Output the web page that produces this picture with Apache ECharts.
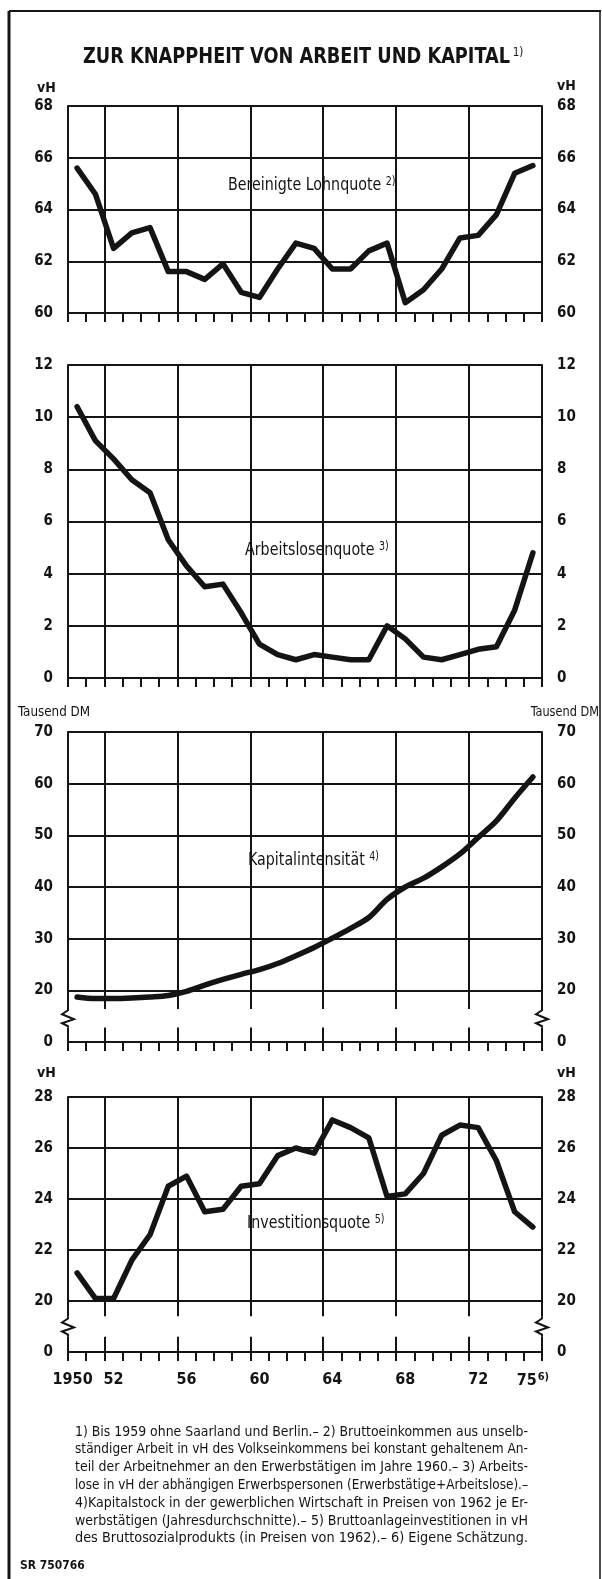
<!DOCTYPE html>
<html>
<head>
<meta charset="utf-8">
<script src="https://cdn.jsdelivr.net/npm/echarts@6/dist/echarts.min.js"></script>
<style>
	html, body { margin: 0; padding: 0; background: #fff; }
	#chart { width: 602px; height: 1579px; }
</style>
</head>
<body>
<div id="chart"></div>
<script>
	// Jahre 1950 - 1975
	var years = ['1950', '1951', '1952', '1953', '1954', '1955', '1956', '1957', '1958', '1959', '1960', '1961', '1962',
		'1963', '1964', '1965', '1966', '1967', '1968', '1969', '1970', '1971', '1972', '1973', '1974', '1975'];
	var labelYears = ['1950', '1952', '1956', '1960', '1964', '1968', '1972', '1975'];

	var lohnquote = [65.6, 64.6, 62.5, 63.1, 63.3, 61.6, 61.6, 61.3, 61.9, 60.8, 60.6, 61.7, 62.7,
		62.5, 61.7, 61.7, 62.4, 62.7, 60.4, 60.9, 61.7, 62.9, 63.0, 63.8, 65.4, 65.7];
	var arbeitslosenquote = [10.4, 9.1, 8.4, 7.6, 7.1, 5.3, 4.3, 3.5, 3.6, 2.5, 1.3, 0.9, 0.7,
		0.9, 0.8, 0.7, 0.7, 2.0, 1.5, 0.8, 0.7, 0.9, 1.1, 1.2, 2.6, 4.8];
	var kapitalintensitaet = [18.7, 18.4, 18.4, 18.5, 18.7, 19.0, 19.8, 21.0, 22.1, 23.1, 24.0, 25.2, 26.7,
		28.3, 30.1, 32.0, 34.1, 37.6, 40.0, 41.7, 43.9, 46.4, 49.6, 52.8, 57.2, 61.3];
	var investitionsquote = [21.1, 20.1, 20.1, 21.6, 22.6, 24.5, 24.9, 23.5, 23.6, 24.5, 24.6, 25.7, 26.0,
		25.8, 27.1, 26.8, 26.4, 24.1, 24.2, 25.0, 26.5, 26.9, 26.8, 25.5, 23.5, 22.9];

	// [min, max, interval] je Teilbild; min in Bild 3 und 4 wird als "0" beschriftet (Achsenbruch)
	var ranges = [[60, 68, 2], [0, 12, 2], [10, 70, 10], [18, 28, 2]];
	var panelNames = ['Bereinigte Lohnquote', 'Arbeitslosenquote', 'Kapitalintensität', 'Investitionsquote'];
	var panelNotes = ['2)', '3)', '4)', '5)'];

	var footnotes = [
		'1) Bis 1959 ohne Saarland und Berlin.– 2) Bruttoeinkommen aus unselb-',
		'ständiger Arbeit in vH des Volkseinkommens bei konstant gehaltenem An-',
		'teil der Arbeitnehmer an den Erwerbstätigen im Jahre 1960.– 3) Arbeits-',
		'lose in vH der abhängigen Erwerbspersonen (Erwerbstätige+Arbeitslose).–',
		'4)Kapitalstock in der gewerblichen Wirtschaft in Preisen von 1962 je Er-',
		'werbstätigen (Jahresdurchschnitte).– 5) Bruttoanlageinvestitionen in vH',
		'des Bruttosozialprodukts (in Preisen von 1962).– 6) Eigene Schätzung.'
	];

	var INK = '#141414';
	var FONT = '"Liberation Sans Narrow", "DejaVu Sans Condensed", "Noto Sans", sans-serif';
	var LEFT = 68, RIGHT = 60;
	var panels = [
		{ top: 106, height: 207 },
		{ top: 365, height: 313 },
		{ top: 732, height: 310 },
		{ top: 1097, height: 255 }
	];
	var seriesData = [lohnquote, arbeitslosenquote, kapitalintensitaet, investitionsquote];

	var chart = echarts.init(document.getElementById('chart'), null, { renderer: 'canvas' });

	var grids = [], xAxes = [], yAxes = [], series = [];
	panels.forEach(function(p, i) {
		grids.push({ left: LEFT, right: RIGHT, top: p.top, height: p.height });
		var isLast = i === panels.length - 1;
		xAxes.push({
			type: 'category',
			gridIndex: i,
			data: years,
			boundaryGap: true,
			axisLine: { lineStyle: { color: INK, width: 2 } },
			axisTick: { show: true, interval: 0, length: 9, lineStyle: { color: INK, width: 2 } },
			axisLabel: isLast ? {
				show: true,
				interval: function(idx, val) { return labelYears.indexOf(val) >= 0; },
				margin: 20,
				color: INK,
				fontFamily: FONT,
				fontWeight: 'bold',
				fontSize: 16,
				formatter: function(val) {
					if (val === '1950') return '{y|1950}';
					if (val === '1975') return '75{s|6)}';
					return val.slice(2);
				},
				rich: {
					y: { fontSize: 16, fontWeight: 'bold', fontFamily: FONT, color: INK, padding: [0, 9, 0, 0] },
					s: { fontSize: 11, fontFamily: FONT, color: INK, verticalAlign: 'top', padding: [0, 0, 6, 1] }
				}
			} : { show: false },
			splitLine: {
				show: true,
				interval: function(idx) { return idx % 4 === 2; },
				lineStyle: { color: INK, width: 2 }
			}
		});
		var r = ranges[i];
		var fmt = function(v) { return (i >= 2 && v === r[0]) ? '0' : String(v); };
		[0, 1].forEach(function(side) {
			yAxes.push({
				type: 'value',
				gridIndex: i,
				position: side === 0 ? 'left' : 'right',
				min: r[0], max: r[1], interval: r[2],
				axisLine: { show: true, lineStyle: { color: INK, width: 2 } },
				axisTick: { show: false },
				axisLabel: {
					color: INK, fontFamily: FONT, fontWeight: 'bold', fontSize: 15,
					margin: side === 0 ? 15 : 15,
					formatter: fmt
				},
				splitLine: { show: side === 0, lineStyle: { color: INK, width: 2 } }
			});
		});
		series.push({
			type: 'line',
			xAxisIndex: i,
			yAxisIndex: i * 2,
			data: seriesData[i],
			symbol: 'none',
			smooth: i === 2 ? 0.3 : false,
			lineStyle: { color: INK, width: 5.5, join: 'round', cap: 'round' },
			z: 5
		});
	});

	chart.setOption({
		backgroundColor: '#fff',
		animation: false,
		grid: grids,
		xAxis: xAxes,
		yAxis: yAxes,
		series: series
	});

	// Texte und Rahmen
	var measure = document.createElement('canvas').getContext('2d');
	function textWidth(txt, font) {
		measure.font = font;
		return measure.measureText(txt).width;
	}

	var g = [];
	function line(x1, y1, x2, y2, w) {
		g.push({ type: 'line', z: 100, shape: { x1: x1, y1: y1, x2: x2, y2: y2 }, style: { stroke: INK, lineWidth: w } });
	}
	function text(x, y, str, opt, sx) {
		g.push({
			type: 'text', z: 100, x: x, y: y, scaleX: sx || 1,
			style: Object.assign({ text: str, fill: INK, font: '15px ' + FONT, textAlign: 'left', textVerticalAlign: 'middle' }, opt || {})
		});
	}

	// Rahmen
	line(9, 11, 9, 1579, 3);
	line(9, 11, 601, 11, 2);
	line(600, 11, 600, 1579, 1.5);

	// Titel
	var titleFont = 'bold 22px ' + FONT;
	var titleText = 'ZUR KNAPPHEIT VON ARBEIT UND KAPITAL';
	g.push({
		type: 'text', z: 100, x: 83, y: 57, scaleX: 427 / textWidth(titleText, titleFont),
		style: {
			text: '{t|' + titleText + '}{s|1)}',
			align: 'left', verticalAlign: 'middle',
			rich: {
				t: { font: titleFont, fill: INK },
				s: { font: '13px ' + FONT, fill: INK, verticalAlign: 'top', padding: [0, 0, 0, 3] }
			}
		}
	});

	// Einheiten
	text(37, 88, 'vH', { font: 'bold 14px ' + FONT });
	text(557, 86, 'vH', { font: 'bold 14px ' + FONT });
	text(18, 712, 'Tausend DM', { font: '14px ' + FONT }, 0.95);
	text(599, 712, 'Tausend DM', { font: '14px ' + FONT, textAlign: 'right' }, 0.9);
	text(37, 1073, 'vH', { font: 'bold 14px ' + FONT });
	text(557, 1073, 'vH', { font: 'bold 14px ' + FONT });

	// Beschriftung der Kurven
	var nameX = [228, 245, 248, 247];
	var nameY = [185, 550, 860, 1223];
	panelNames.forEach(function(name, i) {
		g.push({
			type: 'text', z: 100, x: nameX[i], y: nameY[i], scaleX: 0.88,
			style: {
				text: '{n|' + name + ' }{s|' + panelNotes[i] + '}',
				align: 'left', verticalAlign: 'middle',
				rich: {
					n: { font: '18px ' + FONT, fill: INK },
					s: { font: '12px ' + FONT, fill: INK, verticalAlign: 'top' }
				}
			}
		});
	});

	// Fussnoten, auf volle Breite gestreckt
	var fnFont = '14px ' + FONT;
	footnotes.forEach(function(str, k) {
		var w = textWidth(str, fnFont);
		g.push({
			type: 'text', z: 100, x: 75, y: 1432 + k * 17.8, scaleX: 453 / w,
			style: { text: str, fill: INK, font: fnFont, textAlign: 'left', textVerticalAlign: 'middle' }
		});
	});
	text(20, 1566, 'SR 750766', { font: 'bold 13px ' + FONT }, 0.92);

	// Achsenbruch in Bild 3 und 4
	function addBreak(panel, vBottom, vTop) {
		var yTop = chart.convertToPixel({ yAxisIndex: panel * 2 }, vTop);
		var yBot = chart.convertToPixel({ yAxisIndex: panel * 2 }, vBottom);
		var xl = LEFT, xr = 602 - RIGHT;
		g.push({ type: 'rect', z: 99, shape: { x: xl - 3, y: yTop, width: xr - xl + 6, height: yBot - yTop }, style: { fill: '#fff' } });
		var mid = (yTop + yBot) / 2;
		[xl, xr].forEach(function(x) {
			g.push({
				type: 'polyline', z: 100,
				shape: { points: [[x, yTop], [x, mid - 8], [x - 6, mid - 4], [x + 6, mid + 1], [x - 6, mid + 5], [x, mid + 8], [x, yBot]] },
				style: { stroke: INK, lineWidth: 2, fill: null }
			});
		});
	}
	addBreak(2, 12.8, 16.4);
	addBreak(3, 18.6, 19.4);

	chart.setOption({ graphic: g });
</script>
</body>
</html>
